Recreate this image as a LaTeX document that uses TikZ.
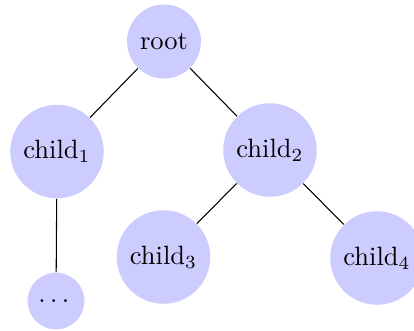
\documentclass[tikz,border=0pt]{standalone}
\begin{document}
\begin{tikzpicture}[x=0.3774pt,y=-0.3774pt,
    bubble/.style={circle,fill=blue!20}]
       \useasboundingbox (0,0) rectangle (414,330);
       \node[bubble] (root) at (164,41.5) {root};
       \node[bubble] (child1) at (57,151.5) {child$_1$};
       \node[bubble] (child2) at (270,150) {child$_2$};
       \node[bubble] (child3) at (163.5,257) {child$_3$};
       \node[bubble] (child4) at (377,258) {child$_4$};
       \node[bubble] (dots) at (56,301) {.\,.\,.\,};
       \draw (root) -- (child1);
       \draw (root) -- (child2);
       \draw (child1) -- (dots);
       \draw (child2) -- (child3);
       \draw (child2) -- (child4);
\end{tikzpicture}
\end{document}
